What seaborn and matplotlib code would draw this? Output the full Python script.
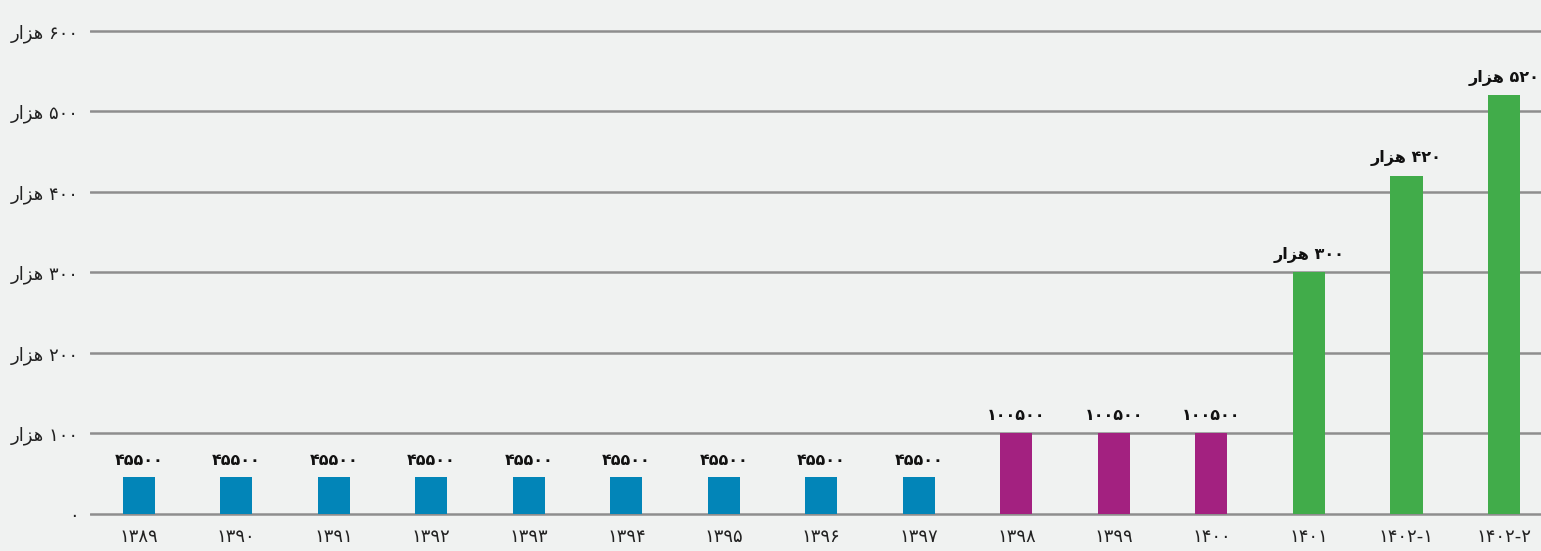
import numpy as np
import pandas as pd
import matplotlib
matplotlib.use("Agg")
import matplotlib.pyplot as plt
import seaborn as sns

# data
years = ["1389", "1390", "1391", "1392", "1393", "1394", "1395", "1396",
         "1397", "1398", "1399", "1400", "1401", "1402-1", "1402-2"]
values = [45500, 45500, 45500, 45500, 45500, 45500, 45500, 45500, 45500,
          100500, 100500, 100500, 300000, 420000, 520000]
groups = ["a"] * 9 + ["b"] * 3 + ["c"] * 3
bar_labels = ["45500"] * 9 + ["100500"] * 3 + ["300 هزار", "420 هزار", "520 هزار"]
y_ticks = [0, 100000, 200000, 300000, 400000, 500000, 600000]
y_tick_labels = ["0", "100 هزار", "200 هزار", "300 هزار", "400 هزار", "500 هزار", "600 هزار"]

palette = {"a": "#0285b8", "b": "#a32180", "c": "#41ac4a"}

FA_DIGITS = str.maketrans("0123456789", "۰۱۲۳۴۵۶۷۸۹")

# matplotlib has no arabic shaping, so map the few letters used here
# to presentation forms and flip the word order by hand
FORMS = {"ه": ("\ufee9", "\ufeeb", "\ufeec", "\ufeea"),
         "ز": ("\ufeaf", None, None, "\ufeb0"),
         "ا": ("\ufe8d", None, None, "\ufe8e"),
         "ر": ("\ufead", None, None, "\ufeae")}


def shape_word(w):
    out = []
    for i, ch in enumerate(w):
        iso, ini, med, fin = FORMS[ch]
        prev_joins = i > 0 and FORMS[w[i - 1]][1] is not None
        next_ok = i < len(w) - 1 and ini is not None
        if prev_joins and next_ok:
            out.append(med)
        elif prev_joins:
            out.append(fin)
        elif next_ok:
            out.append(ini)
        else:
            out.append(iso)
    return "".join(reversed(out))


def fa(text):
    parts = []
    for tok in text.split(" "):
        if tok and tok[0] in FORMS:
            parts.append(shape_word(tok))
        else:
            parts.append(tok.translate(FA_DIGITS))
    return " ".join(reversed(parts))


df = pd.DataFrame({"year": [fa(y) for y in years], "value": values, "group": groups})

sns.set_style("white")
plt.rcParams["font.family"] = ["DejaVu Sans"]

fig = plt.figure(figsize=(15.41, 5.51), dpi=100)
fig.patch.set_facecolor("#f0f2f1")
ax = fig.add_axes([0.0584, 0.0563, 0.9416, 0.9038])
ax.set_facecolor("#f0f2f1")

for yt in y_ticks:
    ax.axhline(yt, color="#8e8e8e", linewidth=1.8, zorder=0)

sns.barplot(data=df, x="year", y="value", hue="group", palette=palette,
            dodge=False, width=0.33, saturation=1, linewidth=0,
            legend=False, ax=ax, zorder=2)

for i, (v, lab) in enumerate(zip(values, bar_labels)):
    ax.annotate(fa(lab), (i, v), xytext=(0, 7), textcoords="offset points",
                ha="center", va="bottom", fontsize=11.5, fontweight="bold",
                color="#111111")

ax.set_xlim(-0.5, 14.38)
ax.set_ylim(-7450, 611200)
ax.set_yticks(y_ticks)
ax.set_yticklabels([fa(t) for t in y_tick_labels])
ax.tick_params(axis="both", length=0, labelsize=13, colors="#222222")
ax.tick_params(axis="x", pad=6)
ax.tick_params(axis="y", pad=8)
ax.set_xlabel("")
ax.set_ylabel("")
for s in ax.spines.values():
    s.set_visible(False)

fig.savefig("out.png", dpi=100, facecolor=fig.get_facecolor())
